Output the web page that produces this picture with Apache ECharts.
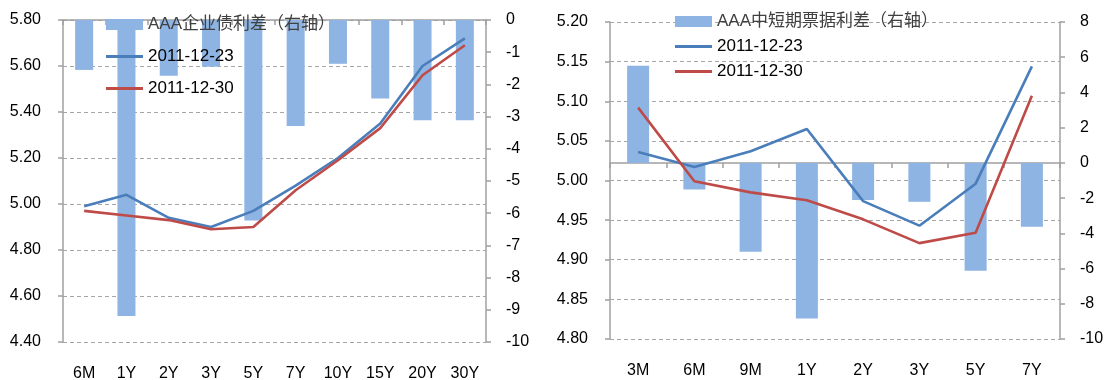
<!DOCTYPE html>
<html>
<head>
<meta charset="utf-8">
<script src="https://cdn.jsdelivr.net/npm/echarts@6/dist/echarts.min.js"></script>
<style>
  html, body { margin: 0; padding: 0; background: #fff; }
  #chart { width: 1105px; height: 380px; }
</style>
</head>
<body>
<div id="chart"></div>
<script>
// Corporate bond curve (left panel)
const corpTerms = ['6M', '1Y', '2Y', '3Y', '5Y', '7Y', '10Y', '15Y', '20Y', '30Y'];
const corpSpread = [-1.55, -9.19, -1.73, -1.45, -6.23, -3.29, -1.36, -2.44, -3.11, -3.11];
const corpYield1223 = [4.99, 5.04, 4.94, 4.90, 4.97, 5.08, 5.20, 5.35, 5.60, 5.72];
const corpYield1230 = [4.97, 4.95, 4.93, 4.89, 4.90, 5.06, 5.19, 5.33, 5.56, 5.69];

// Medium/short-term note curve (right panel)
const mtnTerms = ['3M', '6M', '9M', '1Y', '2Y', '3Y', '5Y', '7Y'];
const mtnSpread = [5.52, -1.51, -5.05, -8.84, -2.11, -2.21, -6.13, -3.63];
const mtnYield1223 = [5.036, 5.017, 5.037, 5.065, 4.974, 4.943, 4.996, 5.144];
const mtnYield1230 = [5.092, 4.999, 4.985, 4.975, 4.951, 4.921, 4.934, 5.107];

const corpSpreadName = 'AAA企业债利差（右轴）';
const mtnSpreadName = 'AAA中短期票据利差（右轴）';
const date1 = '2011-12-23';
const date2 = '2011-12-30';

const BAR = '#8db4e2';
const BLUE = '#4a7ebb';
const RED = '#be4b48';
const AXIS = '#a0a0a0';
const GRID = '#a6a6a6';
const FONT = '"Liberation Sans", "Noto Sans CJK SC", sans-serif';
// thin horizontal stroke centred in the 37x11 legend swatch box
const LINE_ICON = 'path://M0,0 M0,4 L37,4 L37,7 L0,7 Z M37,11';

function xAxisFor(gridIndex, data) {
  return {
    type: 'category', gridIndex, data, boundaryGap: true,
    axisLine: { lineStyle: { color: AXIS, width: 1.5 } },
    axisTick: { show: true, interval: 0, length: 5, lineStyle: { color: AXIS, width: 1.5 } },
    axisLabel: { interval: 0, margin: 24, fontSize: 16, color: '#000', fontFamily: FONT }
  };
}
function leftY(gridIndex, min, max, interval, digits) {
  return {
    type: 'value', gridIndex, position: 'left', min, max, interval,
    axisLine: { show: true, lineStyle: { color: AXIS, width: 1.5 } },
    axisTick: { show: true, length: 5, lineStyle: { color: AXIS, width: 1.5 } },
    axisLabel: { margin: 22, fontSize: 16, color: '#000', fontFamily: FONT,
      formatter: v => v.toFixed(digits) },
    splitLine: { show: true, lineStyle: { color: GRID, type: [4, 3], width: 1.2 } }
  };
}
function rightY(gridIndex, min, max, interval) {
  return {
    type: 'value', gridIndex, position: 'right', min, max, interval,
    axisLine: { show: true, lineStyle: { color: AXIS, width: 1.5 } },
    axisTick: { show: true, length: 5, lineStyle: { color: AXIS, width: 1.5 } },
    axisLabel: { margin: 20, fontSize: 16, color: '#000', fontFamily: FONT },
    splitLine: { show: false }
  };
}
function lineSeries(name, xi, yi, data, color) {
  return {
    name, type: 'line', xAxisIndex: xi, yAxisIndex: yi, data,
    symbol: 'none', smooth: false, z: 3,
    lineStyle: { color, width: 2.6 }, itemStyle: { color }
  };
}
function legendFor(left, top, gap, barName) {
  return {
    orient: 'vertical', left, top, padding: 0,
    itemWidth: 37, itemHeight: 11, itemGap: gap,
    textStyle: { fontSize: 17, color: '#000', fontFamily: FONT },
    data: [
      { name: barName, icon: 'rect', textStyle: { color: '#404040' } },
      { name: date1, icon: LINE_ICON },
      { name: date2, icon: LINE_ICON }
    ]
  };
}

const option = {
  animation: false,
  backgroundColor: '#fff',
  grid: [
    { left: 63, right: 619, top: 20, bottom: 38, outerBoundsMode: 'none' },
    { left: 610, right: 45, top: 22, bottom: 41, outerBoundsMode: 'none' }
  ],
  xAxis: [xAxisFor(0, corpTerms), xAxisFor(1, mtnTerms)],
  yAxis: [
    leftY(0, 4.4, 5.8, 0.2, 2),
    rightY(0, -10, 0, 1),
    leftY(1, 4.8, 5.2, 0.05, 2),
    rightY(1, -10, 8, 2)
  ],
  legend: [
    legendFor(106, 16, 15, corpSpreadName),
    legendFor(675, 13, 8, mtnSpreadName)
  ],
  series: [
    { name: corpSpreadName, type: 'bar', xAxisIndex: 0, yAxisIndex: 1, data: corpSpread,
      barWidth: 18, itemStyle: { color: BAR }, z: 2 },
    lineSeries(date1, 0, 0, corpYield1223, BLUE),
    lineSeries(date2, 0, 0, corpYield1230, RED),
    { name: mtnSpreadName, type: 'bar', xAxisIndex: 1, yAxisIndex: 3, data: mtnSpread,
      barWidth: 22, itemStyle: { color: BAR }, z: 2 },
    lineSeries(date1, 1, 2, mtnYield1223, BLUE),
    lineSeries(date2, 1, 2, mtnYield1230, RED)
  ]
};

const chart = echarts.init(document.getElementById('chart'), null, { renderer: 'canvas' });
chart.setOption(option);
</script>
</body>
</html>
